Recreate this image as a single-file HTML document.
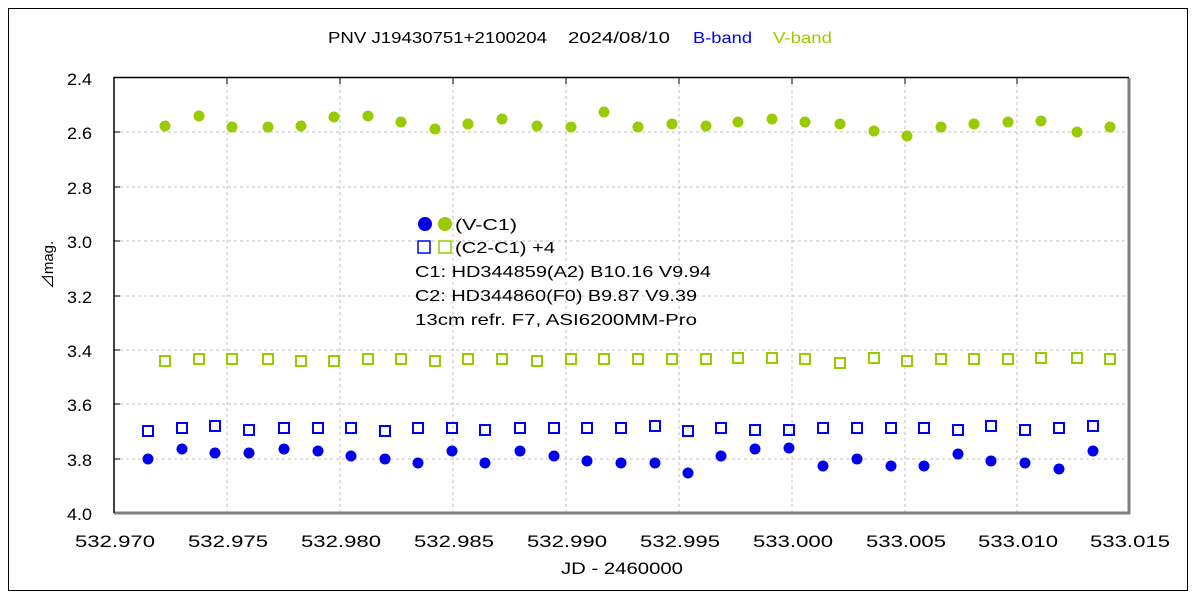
<!DOCTYPE html>
<html><head><meta charset="utf-8"><style>body{margin:0;background:#fff}svg{display:block}text{font-family:"Liberation Sans","Noto Sans CJK JP",sans-serif}</style></head><body>
<svg width="1200" height="600" xmlns="http://www.w3.org/2000/svg">
<rect x="0" y="0" width="1200" height="600" fill="#fff"/>
<rect x="8.5" y="8.5" width="1179" height="582" fill="none" stroke="#000" stroke-width="1"/>
<g font-size="16">
<text x="328" y="43" textLength="219" lengthAdjust="spacingAndGlyphs">PNV J19430751+2100204</text>
<text x="568" y="43" textLength="102" lengthAdjust="spacingAndGlyphs">2024/08/10</text>
<text x="693" y="43" textLength="59" lengthAdjust="spacingAndGlyphs" fill="#0000ff">B-band</text>
<text x="773" y="43" textLength="59" lengthAdjust="spacingAndGlyphs" fill="#99cc00">V-band</text>
</g>
<g stroke="#c0c0c0" stroke-dasharray="3,3" stroke-width="1">
<line x1="227" y1="78" x2="227" y2="513"/><line x1="340" y1="78" x2="340" y2="513"/><line x1="453" y1="78" x2="453" y2="513"/><line x1="566" y1="78" x2="566" y2="513"/><line x1="679" y1="78" x2="679" y2="513"/><line x1="792" y1="78" x2="792" y2="513"/><line x1="905" y1="78" x2="905" y2="513"/><line x1="1017" y1="78" x2="1017" y2="513"/>
<line x1="114" y1="132" x2="1129" y2="132"/><line x1="114" y1="187" x2="1129" y2="187"/><line x1="114" y1="241" x2="1129" y2="241"/><line x1="114" y1="296" x2="1129" y2="296"/><line x1="114" y1="350" x2="1129" y2="350"/><line x1="114" y1="404" x2="1129" y2="404"/><line x1="114" y1="459" x2="1129" y2="459"/>
</g>
<polyline points="1129,78 1129,513 114,513" fill="none" stroke="#808080" stroke-width="3"/>
<polyline points="114,513 114,77.5 1129,77.5" fill="none" stroke="#000" stroke-width="1.5"/>
<g stroke="#000" stroke-width="1">
<line x1="114" y1="132" x2="120" y2="132"/><line x1="114" y1="187" x2="120" y2="187"/><line x1="114" y1="241" x2="120" y2="241"/><line x1="114" y1="296" x2="120" y2="296"/><line x1="114" y1="350" x2="120" y2="350"/><line x1="114" y1="404" x2="120" y2="404"/><line x1="114" y1="459" x2="120" y2="459"/>
<line x1="227" y1="78" x2="227" y2="84"/><line x1="340" y1="78" x2="340" y2="84"/><line x1="453" y1="78" x2="453" y2="84"/><line x1="566" y1="78" x2="566" y2="84"/><line x1="679" y1="78" x2="679" y2="84"/><line x1="792" y1="78" x2="792" y2="84"/><line x1="905" y1="78" x2="905" y2="84"/><line x1="1017" y1="78" x2="1017" y2="84"/>
</g>
<g font-size="17">
<text x="67" y="85" textLength="25" lengthAdjust="spacingAndGlyphs">2.4</text><text x="67" y="139" textLength="25" lengthAdjust="spacingAndGlyphs">2.6</text><text x="67" y="194" textLength="25" lengthAdjust="spacingAndGlyphs">2.8</text><text x="67" y="248" textLength="25" lengthAdjust="spacingAndGlyphs">3.0</text><text x="67" y="303" textLength="25" lengthAdjust="spacingAndGlyphs">3.2</text><text x="67" y="357" textLength="25" lengthAdjust="spacingAndGlyphs">3.4</text><text x="67" y="411" textLength="25" lengthAdjust="spacingAndGlyphs">3.6</text><text x="67" y="466" textLength="25" lengthAdjust="spacingAndGlyphs">3.8</text><text x="67" y="520" textLength="25" lengthAdjust="spacingAndGlyphs">4.0</text>
</g>
<g font-size="17">
<text x="75" y="547" textLength="80" lengthAdjust="spacingAndGlyphs">532.970</text><text x="188" y="547" textLength="80" lengthAdjust="spacingAndGlyphs">532.975</text><text x="301" y="547" textLength="80" lengthAdjust="spacingAndGlyphs">532.980</text><text x="414" y="547" textLength="80" lengthAdjust="spacingAndGlyphs">532.985</text><text x="527" y="547" textLength="80" lengthAdjust="spacingAndGlyphs">532.990</text><text x="640" y="547" textLength="80" lengthAdjust="spacingAndGlyphs">532.995</text><text x="753" y="547" textLength="80" lengthAdjust="spacingAndGlyphs">533.000</text><text x="866" y="547" textLength="80" lengthAdjust="spacingAndGlyphs">533.005</text><text x="978" y="547" textLength="80" lengthAdjust="spacingAndGlyphs">533.010</text><text x="1090" y="547" textLength="80" lengthAdjust="spacingAndGlyphs">533.015</text>
<text x="561" y="574" textLength="122" lengthAdjust="spacingAndGlyphs">JD - 2460000</text>
</g>
<text transform="translate(53,265) rotate(-90)" font-size="15" text-anchor="middle">⊿mag.</text>
<g fill="#99cc00">
<circle cx="165" cy="126" r="5.5"/><circle cx="199" cy="116" r="5.5"/><circle cx="232" cy="127" r="5.5"/><circle cx="268" cy="127" r="5.5"/><circle cx="301" cy="126" r="5.5"/><circle cx="334" cy="117" r="5.5"/><circle cx="368" cy="116" r="5.5"/><circle cx="401" cy="122" r="5.5"/><circle cx="435" cy="129" r="5.5"/><circle cx="468" cy="124" r="5.5"/><circle cx="502" cy="119" r="5.5"/><circle cx="537" cy="126" r="5.5"/><circle cx="571" cy="127" r="5.5"/><circle cx="604" cy="112" r="5.5"/><circle cx="638" cy="127" r="5.5"/><circle cx="672" cy="124" r="5.5"/><circle cx="706" cy="126" r="5.5"/><circle cx="738" cy="122" r="5.5"/><circle cx="772" cy="119" r="5.5"/><circle cx="805" cy="122" r="5.5"/><circle cx="840" cy="124" r="5.5"/><circle cx="874" cy="131" r="5.5"/><circle cx="907" cy="136" r="5.5"/><circle cx="941" cy="127" r="5.5"/><circle cx="974" cy="124" r="5.5"/><circle cx="1008" cy="122" r="5.5"/><circle cx="1041" cy="121" r="5.5"/><circle cx="1077" cy="132" r="5.5"/><circle cx="1110" cy="127" r="5.5"/>
</g>
<g fill="none" stroke="#99cc00" stroke-width="2">
<rect x="160" y="356" width="10" height="10"/><rect x="194" y="354" width="10" height="10"/><rect x="227" y="354" width="10" height="10"/><rect x="263" y="354" width="10" height="10"/><rect x="296" y="356" width="10" height="10"/><rect x="329" y="356" width="10" height="10"/><rect x="363" y="354" width="10" height="10"/><rect x="396" y="354" width="10" height="10"/><rect x="430" y="356" width="10" height="10"/><rect x="463" y="354" width="10" height="10"/><rect x="497" y="354" width="10" height="10"/><rect x="532" y="356" width="10" height="10"/><rect x="566" y="354" width="10" height="10"/><rect x="599" y="354" width="10" height="10"/><rect x="633" y="354" width="10" height="10"/><rect x="667" y="354" width="10" height="10"/><rect x="701" y="354" width="10" height="10"/><rect x="733" y="353" width="10" height="10"/><rect x="767" y="353" width="10" height="10"/><rect x="800" y="354" width="10" height="10"/><rect x="835" y="358" width="10" height="10"/><rect x="869" y="353" width="10" height="10"/><rect x="902" y="356" width="10" height="10"/><rect x="936" y="354" width="10" height="10"/><rect x="969" y="354" width="10" height="10"/><rect x="1003" y="354" width="10" height="10"/><rect x="1036" y="353" width="10" height="10"/><rect x="1072" y="353" width="10" height="10"/><rect x="1105" y="354" width="10" height="10"/>
</g>
<g fill="none" stroke="#0000ff" stroke-width="2">
<rect x="143" y="426" width="10" height="10"/><rect x="177" y="423" width="10" height="10"/><rect x="210" y="421" width="10" height="10"/><rect x="244" y="425" width="10" height="10"/><rect x="279" y="423" width="10" height="10"/><rect x="313" y="423" width="10" height="10"/><rect x="346" y="423" width="10" height="10"/><rect x="380" y="426" width="10" height="10"/><rect x="413" y="423" width="10" height="10"/><rect x="447" y="423" width="10" height="10"/><rect x="480" y="425" width="10" height="10"/><rect x="515" y="423" width="10" height="10"/><rect x="549" y="423" width="10" height="10"/><rect x="582" y="423" width="10" height="10"/><rect x="616" y="423" width="10" height="10"/><rect x="650" y="421" width="10" height="10"/><rect x="683" y="426" width="10" height="10"/><rect x="716" y="423" width="10" height="10"/><rect x="750" y="425" width="10" height="10"/><rect x="784" y="425" width="10" height="10"/><rect x="818" y="423" width="10" height="10"/><rect x="852" y="423" width="10" height="10"/><rect x="886" y="423" width="10" height="10"/><rect x="919" y="423" width="10" height="10"/><rect x="953" y="425" width="10" height="10"/><rect x="986" y="421" width="10" height="10"/><rect x="1020" y="425" width="10" height="10"/><rect x="1054" y="423" width="10" height="10"/><rect x="1088" y="421" width="10" height="10"/>
</g>
<g fill="#0000ee">
<circle cx="148" cy="459" r="5.5"/><circle cx="182" cy="449" r="5.5"/><circle cx="215" cy="453" r="5.5"/><circle cx="249" cy="453" r="5.5"/><circle cx="284" cy="449" r="5.5"/><circle cx="318" cy="451" r="5.5"/><circle cx="351" cy="456" r="5.5"/><circle cx="385" cy="459" r="5.5"/><circle cx="418" cy="463" r="5.5"/><circle cx="452" cy="451" r="5.5"/><circle cx="485" cy="463" r="5.5"/><circle cx="520" cy="451" r="5.5"/><circle cx="554" cy="456" r="5.5"/><circle cx="587" cy="461" r="5.5"/><circle cx="621" cy="463" r="5.5"/><circle cx="655" cy="463" r="5.5"/><circle cx="688" cy="473" r="5.5"/><circle cx="721" cy="456" r="5.5"/><circle cx="755" cy="449" r="5.5"/><circle cx="789" cy="448" r="5.5"/><circle cx="823" cy="466" r="5.5"/><circle cx="857" cy="459" r="5.5"/><circle cx="891" cy="466" r="5.5"/><circle cx="924" cy="466" r="5.5"/><circle cx="958" cy="454" r="5.5"/><circle cx="991" cy="461" r="5.5"/><circle cx="1025" cy="463" r="5.5"/><circle cx="1059" cy="469" r="5.5"/><circle cx="1093" cy="451" r="5.5"/>
</g>
<circle cx="425" cy="224" r="7" fill="#0000ee"/><circle cx="445" cy="224" r="7" fill="#99cc00"/>
<rect x="418" y="241" width="12" height="12" fill="none" stroke="#0000ff" stroke-width="1.5"/><rect x="439" y="241" width="12" height="12" fill="none" stroke="#99cc00" stroke-width="1.5"/>
<g font-size="16">
<text x="455" y="230" textLength="62" lengthAdjust="spacingAndGlyphs">(V-C1)</text>
<text x="455" y="253" textLength="100" lengthAdjust="spacingAndGlyphs">(C2-C1) +4</text>
<text x="415" y="277" textLength="296" lengthAdjust="spacingAndGlyphs">C1: HD344859(A2)  B10.16  V9.94</text>
<text x="415" y="301" textLength="282" lengthAdjust="spacingAndGlyphs">C2: HD344860(F0)  B9.87  V9.39</text>
<text x="415" y="325" textLength="282" lengthAdjust="spacingAndGlyphs">13cm refr. F7,  ASI6200MM-Pro</text>
</g>
</svg>
</body></html>
